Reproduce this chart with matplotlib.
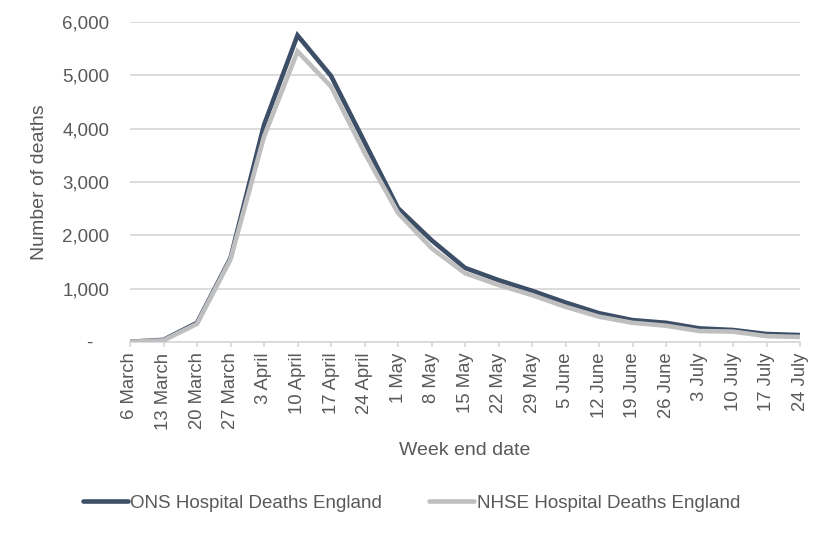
import matplotlib
matplotlib.use("Agg")
import matplotlib.pyplot as plt
from matplotlib.ticker import FuncFormatter

weeks = ["6 March", "13 March", "20 March", "27 March", "3 April", "10 April",
         "17 April", "24 April", "1 May", "8 May", "15 May", "22 May", "29 May",
         "5 June", "12 June", "19 June", "26 June", "3 July", "10 July",
         "17 July", "24 July"]
ons = [5, 40, 360, 1575, 4070, 5750, 4990, 3750, 2510, 1910, 1390, 1160, 960,
       740, 540, 410, 360, 255, 225, 150, 130]
nhse = [5, 30, 340, 1550, 3850, 5450, 4790, 3550, 2420, 1760, 1290, 1070, 880,
        660, 475, 360, 305, 205, 195, 110, 95]

plt.rcParams['font.family'] = ['Liberation Sans', 'DejaVu Sans']
text_col = '#595959'

fig = plt.figure(figsize=(8.23, 5.33), dpi=100)
ax = fig.add_axes([130/823, 1-342/533, (800-130)/823, (342-22)/533])

x = list(range(len(weeks)))
ax.plot(x, ons, color='#3D4E67', lw=3.3, label='ONS Hospital Deaths England',
        solid_joinstyle='miter', solid_capstyle='round', zorder=3)
ax.plot(x, nhse, color='#BFBFBF', lw=3.3, label='NHSE Hospital Deaths England',
        solid_joinstyle='miter', solid_capstyle='round', zorder=4)

ax.set_xlim(0, len(weeks) - 1)
ax.set_ylim(0, 6000)
ax.set_yticks(range(0, 6001, 1000))
ax.yaxis.set_major_formatter(FuncFormatter(lambda v, p: '-   ' if v == 0 else f'{int(v):,}'))
ax.set_xticks(x)
ax.set_xticklabels(weeks, rotation=90)
ax.grid(axis='y', color='#D9D9D9', lw=1.3)
ax.set_axisbelow(True)
for s in ['top', 'right', 'left']:
    ax.spines[s].set_visible(False)
ax.spines['bottom'].set_color('#D9D9D9')
ax.spines['bottom'].set_linewidth(1.3)
ax.tick_params(axis='y', length=0, pad=15, labelsize=13.5, labelcolor=text_col)
ax.tick_params(axis='x', length=3.6, color='#D9D9D9', width=1.3, labelsize=13.3,
               labelcolor=text_col, pad=4)

ax.set_ylabel('Number of deaths', fontsize=14, color=text_col, labelpad=10)
ax.set_xlabel('Week end date', fontsize=14, color=text_col, labelpad=9)

leg = fig.legend(loc='center', bbox_to_anchor=(0.5, 1-503/533), ncol=2,
                 frameon=False, fontsize=13.5, handlelength=2.4, handletextpad=0.15,
                 columnspacing=2.5)
for t in leg.get_texts():
    t.set_color(text_col)
for h in leg.get_lines():
    h.set_linewidth(3.3)
    h.set_solid_capstyle('round')

fig.savefig('out.png', dpi=100)
